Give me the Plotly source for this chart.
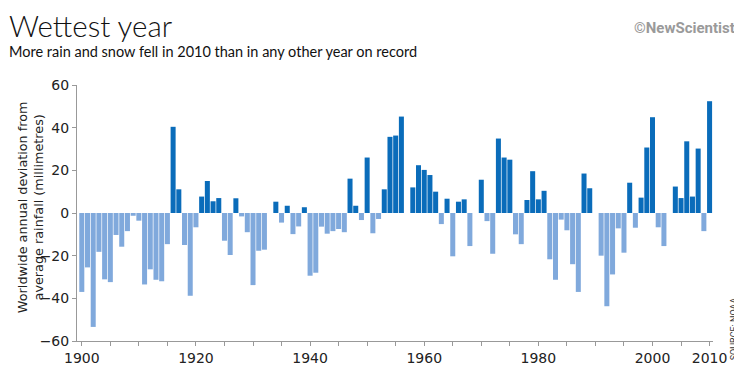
import plotly.graph_objects as go

years = list(range(1900, 2011))
deviation = [
    -37, -25.5, -53.4, -18.2, -31.1, -32.4, -10.3, -15.8, -8.5, -1.3,      # 1900-1909
    -3.6, -33.5, -26.4, -31.3, -32, -14.6, 40.4, 11.1, -15, -38.8,         # 1910-1919
    -6.7, 7.7, 15, 5.5, 7, -13, -19.7, 6.9, -1.6, -9,                       # 1920-1929
    -33.8, -17.7, -17.2, 0, 5.3, -4.5, 3.4, -9.9, -6.3, 2.7,                # 1930-1939
    -29.4, -28, -6.4, -9.7, -8.5, -7.5, -9, 16.1, 3.4, -3.3,                # 1940-1949
    26, -9.5, -2.8, 11.1, 35.7, 36.3, 45.2, 0, 12, 22.4,                    # 1950-1959
    20.2, 17.8, 10, -5.2, 6.7, -20.3, 5.3, 6.4, -15.5, 0,                   # 1960-1969
    15.6, -3.8, -19.1, 34.9, 26, 25, -10, -14.6, 6.1, 19.6,                 # 1970-1979
    6.4, 10.4, -21.7, -31.3, -3.1, -8.1, -24, -37, 18.5, 11.6,              # 1980-1989
    0, -20, -43.7, -28.8, -7.2, -18.6, 14.2, -6.9, 7.2, 30.7,               # 1990-1999
    44.9, -6.7, -15.5, 0, 12.4, 7, 33.6, 7.7, 30.2, -8.5,                   # 2000-2009
    52.4,                                                                   # 2010
]
x_tick_labels = {1900: "1900", 1920: "1920", 1940: "1940", 1960: "1960",
                 1980: "1980", 2000: "2000", 2010: "2010"}
y_ticks = [-60, -40, -20, 0, 20, 40, 60]

DARK = "#0a6cba"
LIGHT = "#80a9dc"
colors = [DARK if v >= 0 else LIGHT for v in deviation]

# page is offset by the default 8px body margin
OFF = 8
PW, PH = 742, 367
W, H = PW - OFF, PH - OFF
L, R, T, B = 77, 713, 85, 340.7   # plot area in page pixels


def px(x):
    return (x - L) / (R - L)


def py(y):
    return (B - y) / (B - T)


fig = go.Figure()
fig.add_trace(go.Bar(x=years, y=deviation, marker=dict(color=colors, line=dict(width=0)),
                     hoverinfo="x+y"))

tickvals = list(range(1900, 2011, 5))
ticktext = [x_tick_labels.get(t, "") for t in tickvals]

fig.update_layout(
    width=W, height=H,
    margin=dict(l=L - OFF, r=PW - R, t=T - OFF, b=PH - B, pad=0, autoexpand=False),
    paper_bgcolor="white", plot_bgcolor="white",
    bargap=0.12,
    showlegend=False,
    font=dict(family="DejaVu Sans", color="#222"),
    xaxis=dict(range=[1899.16, 2010.6], tickvals=tickvals, ticktext=ticktext,
               ticks="outside", ticklen=4, tickcolor="#999", showline=True,
               linecolor="#999", linewidth=1, showgrid=False, zeroline=False,
               automargin=False,
               tickfont=dict(size=14, color="#222", family="DejaVu Sans")),
    yaxis=dict(range=[-60, 60], tickvals=y_ticks, ticks="outside", ticklen=4,
               tickcolor="#999", showline=True, linecolor="#999", linewidth=1,
               showgrid=False, zeroline=False, automargin=False,
               tickfont=dict(size=14, color="#222", family="DejaVu Sans")),
)

fig.add_annotation(text="Wettest year", xref="paper", yref="paper", x=px(7), y=py(26),
                   xanchor="left", yanchor="middle", showarrow=False,
                   font=dict(family="Lato", size=29.5, color="#111", weight=300))
fig.add_annotation(text="More rain and snow fell in 2010 than in any other year on record",
                   xref="paper", yref="paper", x=px(7), y=py(52),
                   xanchor="left", yanchor="middle", showarrow=False,
                   font=dict(family="Lato", size=14.5, color="#111"))
fig.add_annotation(text="©NewScientist", xref="paper", yref="paper", x=px(737), y=py(28),
                   xanchor="right", yanchor="middle", showarrow=False,
                   font=dict(family="Roboto", size=15, color="#9a9a9a", weight="bold"))
fig.add_annotation(text="Worldwide annual deviation from<br>average rainfall (millimetres)",
                   xref="paper", yref="paper", x=px(31), y=py(207),
                   xanchor="center", yanchor="middle", showarrow=False, textangle=-90,
                   font=dict(family="DejaVu Sans", size=12.8, color="#222"))
fig.add_annotation(text="SOURCE: NOAA", xref="paper", yref="paper", x=px(734), y=py(329),
                   xanchor="center", yanchor="middle", showarrow=False, textangle=-90,
                   font=dict(family="Roboto", size=9, color="#333"))

fig.write_html("out.html")
